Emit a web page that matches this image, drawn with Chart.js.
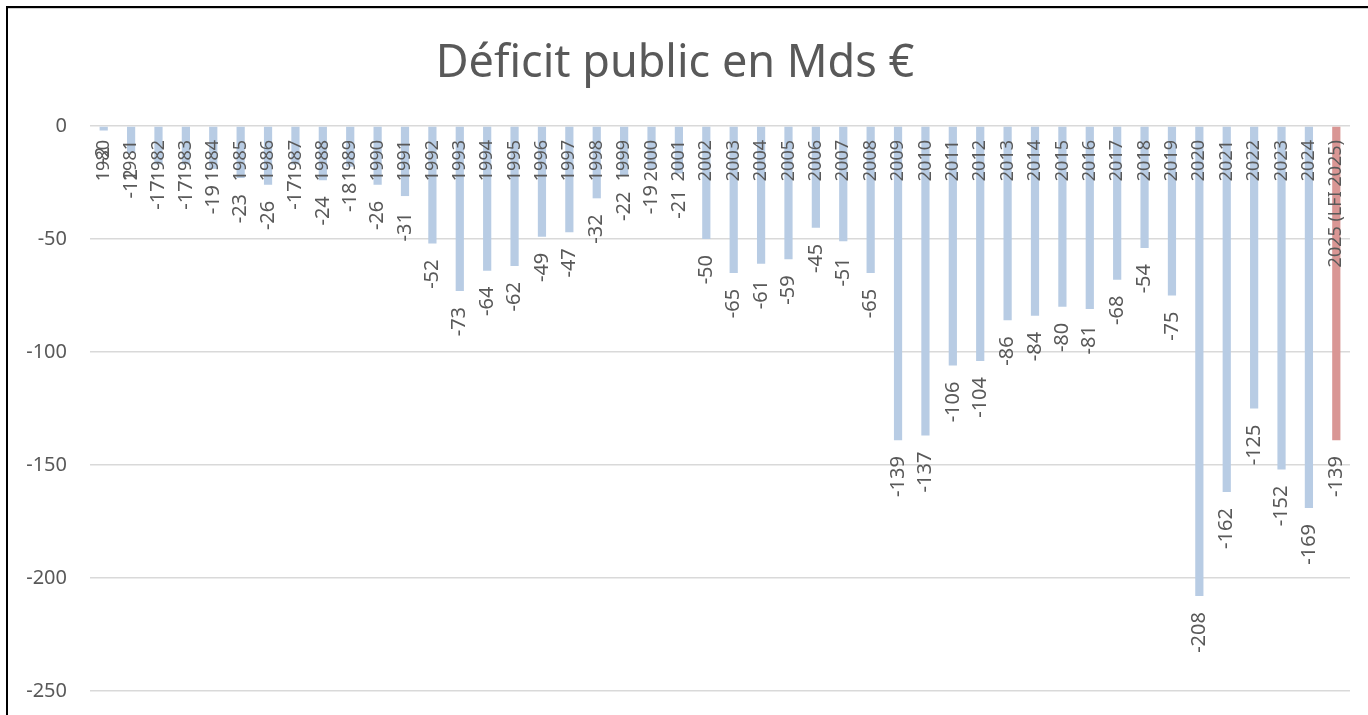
<!DOCTYPE html>
<html>
<head>
<meta charset="utf-8">
<script src="https://cdn.jsdelivr.net/npm/chart.js@4"></script>
<style>
  body { margin: 0; background: #fff; }
  #wrap { position: relative; width: 1368px; height: 715px; overflow: hidden; }
  #box { position: absolute; left: 0; top: 0; width: 1368px; height: 726px; }
  #frame { position: absolute; left: 6px; top: 6px; width: 1400px; height: 800px;
           border-left: 2px solid #000; border-top: 2px solid #000; pointer-events: none; }
  #frame div { border-top: 1px solid #d0d0d0; }
</style>
</head>
<body>
<div id="wrap">
  <div id="box"><canvas id="deficit-chart"></canvas></div>
  <div id="frame"><div></div></div>
</div>
<script>
// Déficit public en Mds €
const years = ["1980", "1981", "1982", "1983", "1984", "1985", "1986", "1987", "1988", "1989",
  "1990", "1991", "1992", "1993", "1994", "1995", "1996", "1997", "1998", "1999",
  "2000", "2001", "2002", "2003", "2004", "2005", "2006", "2007", "2008", "2009",
  "2010", "2011", "2012", "2013", "2014", "2015", "2016", "2017", "2018", "2019",
  "2020", "2021", "2022", "2023", "2024", "2025 (LFI 2025)"];
const deficit = [-2, -12, -17, -17, -19, -23, -26, -17, -24, -18,
  -26, -31, -52, -73, -64, -62, -49, -47, -32, -22,
  -19, -21, -50, -65, -61, -59, -45, -51, -65, -139,
  -137, -106, -104, -86, -84, -80, -81, -68, -54, -75,
  -208, -162, -125, -152, -169, -139];
const yTicks = [0, -50, -100, -150, -200, -250];

const barColors = years.map((y, i) => i === years.length - 1 ? "#d99694" : "#b8cce4");
const textColor = "#595959";
const font = "'Noto Sans', sans-serif";

// labels drawn inside the plot, like the Excel original
const labelPlugin = {
  id: "barLabels",
  afterDatasetsDraw(chart) {
    const ctx = chart.ctx;
    const x = chart.scales.x;
    const y = chart.scales.y;
    const y0 = y.getPixelForValue(0);
    ctx.save();
    ctx.fillStyle = textColor;
    ctx.textAlign = "right";
    ctx.textBaseline = "middle";
    years.forEach((label, i) => {
      const px = x.getPixelForValue(i);
      ctx.save();
      ctx.font = "18px " + font;
      ctx.translate(px, y0 + 14);
      ctx.rotate(-Math.PI / 2);
      ctx.fillText(label, 0, 0);
      ctx.restore();

      ctx.save();
      ctx.font = "20px " + font;
      ctx.translate(px, y.getPixelForValue(deficit[i]) + 16);
      ctx.rotate(-Math.PI / 2);
      ctx.fillText(String(deficit[i]), 0, 0);
      ctx.restore();
    });
    ctx.restore();
  }
};

const config = {
  type: "bar",
  data: {
    labels: years,
    datasets: [
      {
        label: "Déficit public",
        data: deficit,
        backgroundColor: barColors,
        barPercentage: 0.3,
        categoryPercentage: 1,
      },
    ],
  },
  options: {
    responsive: true,
    maintainAspectRatio: false,
    animation: false,
    layout: {
      padding: { left: 0, right: 18, top: 0, bottom: 14 },
    },
    plugins: {
      legend: { display: false },
      tooltip: { enabled: false },
      title: {
        display: true,
        text: "Déficit public en Mds €",
        color: textColor,
        font: { family: font, size: 45, weight: "normal" },
        padding: { top: 37, bottom: 35 },
      },
    },
    scales: {
      x: {
        display: false,
      },
      y: {
        min: -250,
        max: 0,
        afterFit(scale) { scale.width = 90; },
        afterBuildTicks(scale) { scale.ticks = yTicks.map(v => ({ value: v })); },
        border: { display: false },
        grid: { color: "#d9d9d9", lineWidth: 1.5, drawTicks: false },
        ticks: {
          color: textColor,
          padding: 23,
          font: { family: font, size: 20 },
        },
      },
    },
  },
  plugins: [labelPlugin],
};

const deficitChart = new Chart(document.getElementById("deficit-chart"), config);
</script>
</body>
</html>
